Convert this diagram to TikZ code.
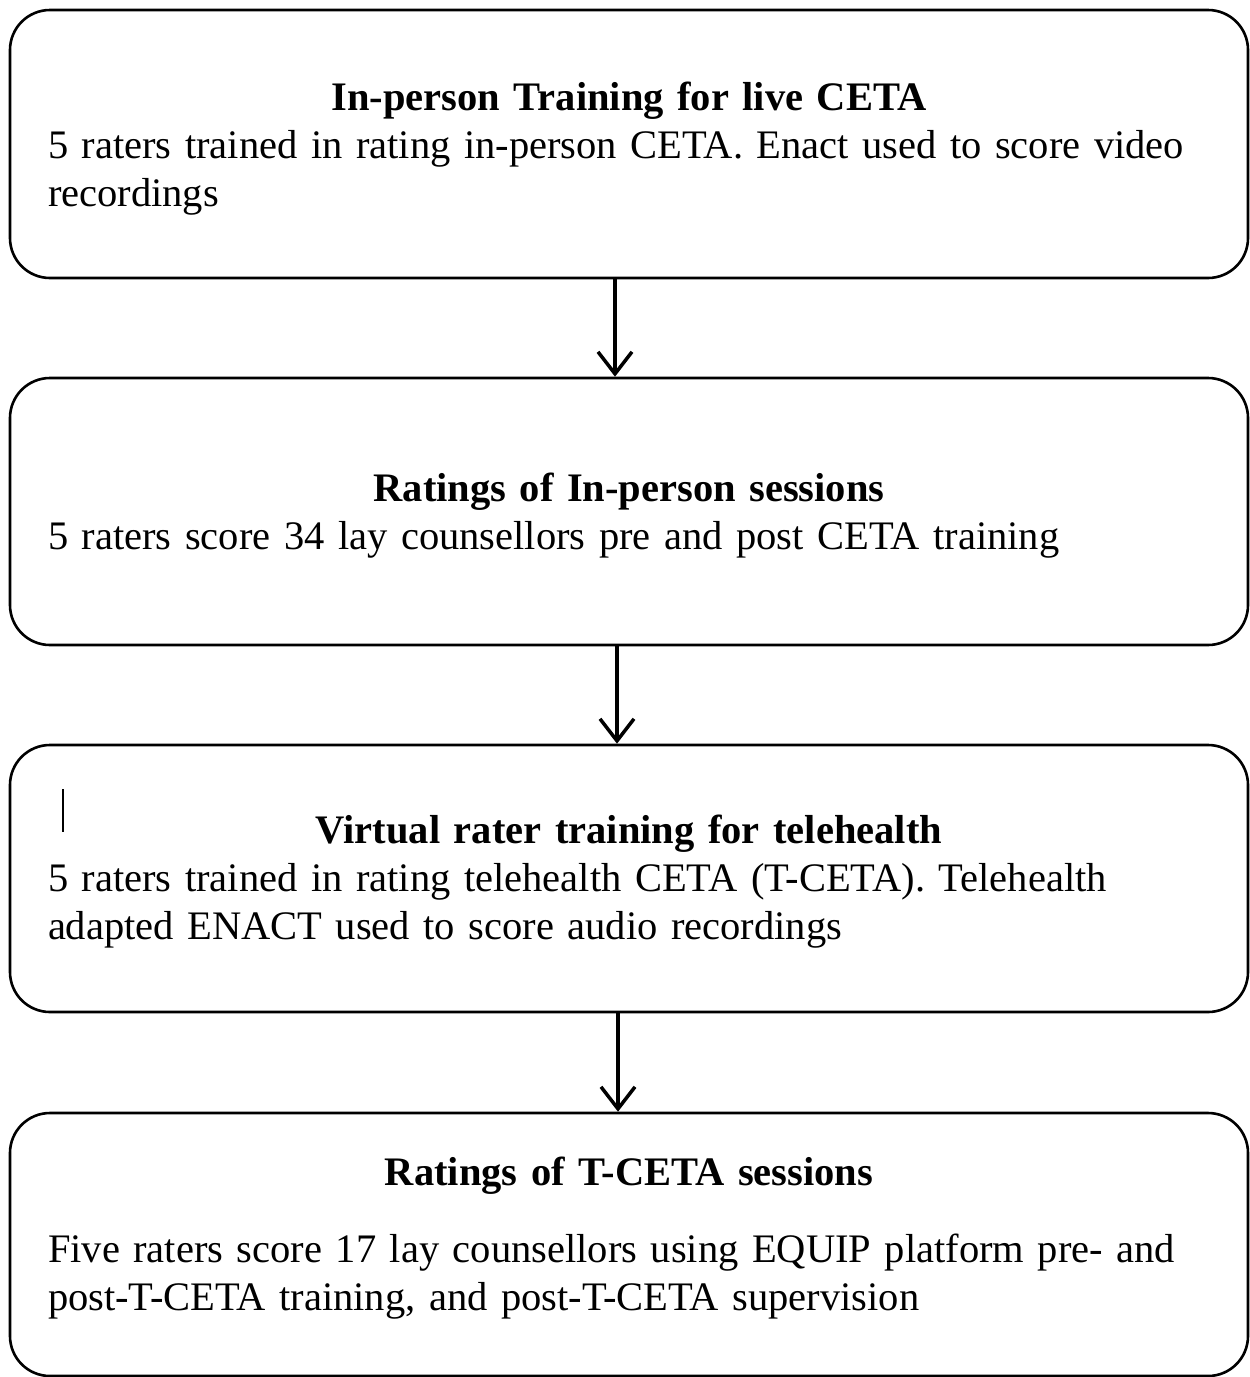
\documentclass[tikz,border=0pt]{standalone}
\usepackage{fontspec}
\setmainfont{Liberation Serif}
\usepackage{tikz}
\usetikzlibrary{arrows.meta, positioning}

\begin{document}
\begin{tikzpicture}[x=1pt, y=1pt,
        stage/.style={draw, line width=2.6pt, rounded corners=40pt,
            minimum width=1238pt, text width=1162pt, inner xsep=38pt,
            align=left, font=\fontsize{40.5}{48}\selectfont},
        flow/.style={line width=3.5pt, -{Straight Barb[length=22pt, width=34pt, line width=3.5pt]}}]
        \useasboundingbox (0, 0) rectangle (1250, -1377);

        \node[stage, minimum height=268pt] (train) at (629, -144) {%
            {\centering\bfseries\rule{0pt}{38pt}In-person Training for live CETA\par}
            5 raters trained in rating in-person CETA. Enact used to score video\\
            recordings};
        \node[stage, minimum height=267pt] (live) at (629, -511.5) {%
            {\centering\bfseries\rule{0pt}{36pt}Ratings of In-person sessions\par}
            5 raters score 34 lay counsellors pre and post CETA training};
        \node[stage, minimum height=267pt] (virtual) at (629, -878.5) {%
            {\centering\bfseries\rule{0pt}{35pt}Virtual rater training for telehealth\par}
            5 raters trained in rating telehealth CETA (T-CETA). Telehealth\\
            adapted ENACT used to score audio recordings};
        \node[stage, minimum height=263pt] (tele) at (629, -1244.5) {%
            {\centering\bfseries Ratings of T-CETA sessions\par}
            \vspace{29pt}
            Five raters score 17 lay counsellors using EQUIP platform pre- and\\
            post-T-CETA training, and post-T-CETA supervision\rule[-21pt]{0pt}{1pt}};

        % stray cursor mark in the third box
        \draw[line width=1.6pt] (63, -789) -- (63, -832);

        \draw[flow] ([xshift=-14pt]train.south) to ([xshift=-14pt]live.north);
        \draw[flow] ([xshift=-12pt]live.south) to ([xshift=-12pt]virtual.north);
        \draw[flow] ([xshift=-11pt]virtual.south) to ([xshift=-11pt]tele.north);
    \end{tikzpicture}
\end{document}
